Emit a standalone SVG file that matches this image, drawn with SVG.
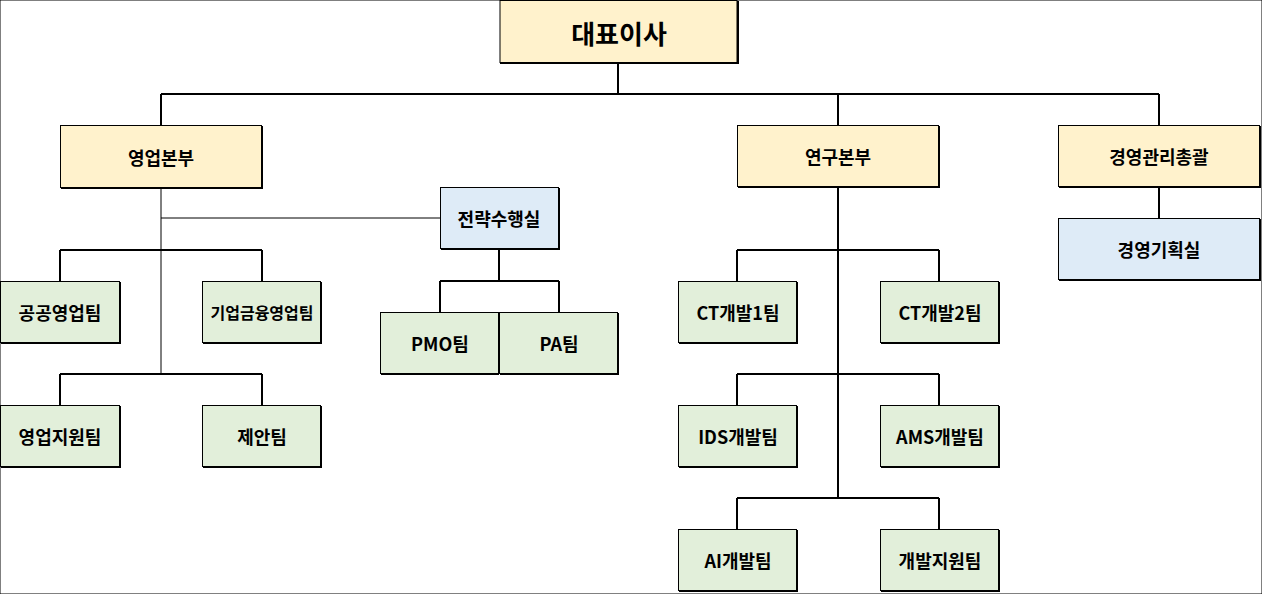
<svg xmlns="http://www.w3.org/2000/svg" width="1262" height="594" viewBox="0 0 1262 594">
<style>
rect{stroke:#000;stroke-width:1}
.y{fill:#FFF2CC}.b{fill:#DEEBF7}.g{fill:#E2EFDA}
.s{fill:none;stroke:#000;stroke-width:2}
text{font-family:"Noto Sans CJK KR","Noto Sans",sans-serif;font-weight:bold;font-size:18px;text-anchor:middle;dominant-baseline:central;fill:#000}
#conn path{fill:none;stroke:#000;stroke-width:2}
</style>
<rect width="1262" height="594" fill="#fff" stroke="none"/>
<g id="conn">
<path d="M618 63V94M161 94H1159M161 94V125M838 94V125M1159 94V125"/>
<path d="M161 188V374M161 218H441" style="stroke-width:1"/>
<path d="M60 250H262M60 250V281M262 250V281M60 374H262M60 374V405M262 374V405"/>
<path d="M499 249V281M440 281H559M440 281V312M559 281V312"/>
<path d="M838 187V498M737 250H939M737 250V281M939 250V281M737 374H939M737 374V405M939 374V405M737 498H939M737 498V529M939 498V529"/>
<path d="M1159 187V218"/>
</g>
<g id="n0"><rect class="y" x="500" y="0.5" width="237" height="62"/><path class="s" d="M500 63H738V1"/><text x="619" y="32" style="font-size:26px">대표이사</text></g>
<g id="n1"><rect class="y" x="60.5" y="125.5" width="201" height="62"/><path class="s" d="M61 188H262V126"/><text x="161" y="157">영업본부</text></g>
<g id="n2"><rect class="y" x="737.5" y="125.5" width="201" height="61"/><path class="s" d="M738 187H939V126"/><text x="838" y="156">연구본부</text></g>
<g id="n3"><rect class="y" x="1058.5" y="125.5" width="201" height="61"/><path class="s" d="M1059 187H1260V126"/><text x="1159" y="156">경영관리총괄</text></g>
<g id="n4"><rect class="b" x="440.5" y="187.5" width="118" height="61"/><path class="s" d="M441 249H559V188"/><text x="499" y="218">전략수행실</text></g>
<g id="n5"><rect class="b" x="1058.5" y="218.5" width="201" height="61"/><path class="s" d="M1059 280H1260V219"/><text x="1159" y="249">경영기획실</text></g>
<g id="n6"><rect class="g" x="0.5" y="281.5" width="119" height="61"/><path class="s" d="M1 343H120V282"/><text x="60" y="312">공공영업팀</text></g>
<g id="n7"><rect class="g" x="202.5" y="281.5" width="118" height="61"/><path class="s" d="M203 343H321V282"/><text x="262" y="312" style="font-size:16px">기업금융영업팀</text></g>
<g id="n8"><rect class="g" x="0.5" y="405.5" width="119" height="61"/><path class="s" d="M1 467H120V406"/><text x="60" y="436">영업지원팀</text></g>
<g id="n9"><rect class="g" x="202.5" y="405.5" width="118" height="61"/><path class="s" d="M203 467H321V406"/><text x="262" y="436">제안팀</text></g>
<g id="n10"><rect class="g" x="380.5" y="312.5" width="118" height="61"/><path class="s" d="M381 374H499"/><text x="440" y="343">PMO팀</text></g>
<g id="n11"><rect class="g" x="499.5" y="312.5" width="118" height="61"/><path class="s" d="M500 374H618V313"/><text x="559" y="343">PA팀</text></g>
<g id="n12"><rect class="g" x="678.5" y="281.5" width="118" height="61"/><path class="s" d="M679 343H797V282"/><text x="738" y="312">CT개발1팀</text></g>
<g id="n13"><rect class="g" x="880.5" y="281.5" width="118" height="61"/><path class="s" d="M881 343H999V282"/><text x="940" y="312">CT개발2팀</text></g>
<g id="n14"><rect class="g" x="678.5" y="405.5" width="118" height="61"/><path class="s" d="M679 467H797V406"/><text x="738" y="436">IDS개발팀</text></g>
<g id="n15"><rect class="g" x="880.5" y="405.5" width="118" height="61"/><path class="s" d="M881 467H999V406"/><text x="940" y="436">AMS개발팀</text></g>
<g id="n16"><rect class="g" x="678.5" y="529.5" width="118" height="61"/><path class="s" d="M679 591H797V530"/><text x="738" y="560">AI개발팀</text></g>
<g id="n17"><rect class="g" x="880.5" y="529.5" width="118" height="61"/><path class="s" d="M881 591H999V530"/><text x="940" y="560">개발지원팀</text></g>
</svg>
